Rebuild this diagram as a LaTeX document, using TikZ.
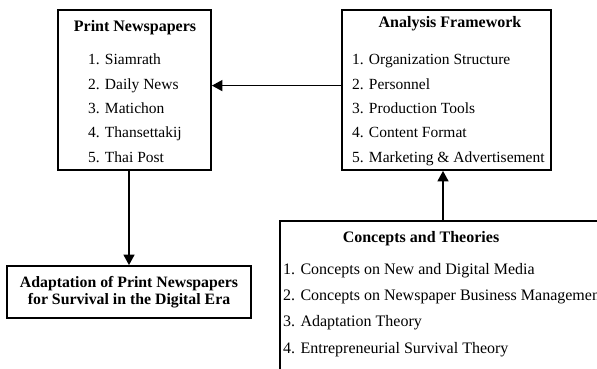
\documentclass[tikz,border=0pt]{standalone}
\usepackage{fontspec}
\setmainfont{Liberation Serif}
\usetikzlibrary{positioning, arrows.meta}

\begin{document}
\begin{tikzpicture}[
  x=1pt, y=-1pt,
  panel/.style={draw=black, line width=1.8pt, inner sep=0pt},
  head/.style={font=\fontsize{16}{17}\selectfont\bfseries, inner sep=0pt},
  entry/.style={font=\fontsize{15.5}{16.5}\selectfont, anchor=base west, inner sep=0pt},
  bigentry/.style={entry, font=\fontsize{16}{17}\selectfont},
  flow/.style={-{Triangle[length=10.5pt, width=11pt]}, line width=1.6pt}]

  \useasboundingbox (0,0) rectangle (597,369);
  \clip (0,0) rectangle (597,369);

  % --- the papers studied
  \node[panel, minimum width=153, minimum height=160] (pnbox) at (134.5, 90) {};
  \node[head, anchor=base] (pnhead) at (135, 31.5) {Print Newspapers};
  \foreach \t [count=\k] in {Siamrath, Daily News, Matichon, Thansettakij, Thai Post}
    \node[entry] (pn\k) at (88, {65+24.3*(\k-1)}) {\k. \t};

  % --- what is looked at in each paper
  \node[panel, minimum width=209, minimum height=160] (afbox) at (446.5, 90) {};
  \node[head, anchor=base] (afhead) at (450, 28) {Analysis Framework};
  \foreach \t [count=\k] in {Organization Structure, Personnel, Production Tools,
                             Content Format, Marketing \& Advertisement}
    \node[entry] (af\k) at (352, {65+24.3*(\k-1)}) {\k. \t};

  % --- the outcome
  \node[panel, minimum width=244, minimum height=52, align=center,
        font=\fontsize{15.8}{16.5}\selectfont\bfseries] (adbox) at (129, 292)
    {Adaptation of Print Newspapers\\for Survival in the Digital Era};

  % --- theory base, runs off the page at right and bottom
  \node[panel, minimum width=340, minimum height=170] (ctbox) at (450, 306) {};
  \node[head, anchor=base] (cthead) at (421, 242.5) {Concepts and Theories};
  \foreach \t [count=\k] in {Concepts on New and Digital Media,
                             Concepts on Newspaper Business Management,
                             Adaptation Theory, Entrepreneurial Survival Theory}
    \node[bigentry] (ct\k) at (283, {274+26.4*(\k-1)}) {\k. \t};

  \draw[flow] (afbox.west |- pn2) -- (pnbox.east |- pn2);
  \draw[flow] (pnbox.south -| adbox.north) -- (adbox.north);
  \draw[flow] (ctbox.north -| 443,0) -- (afbox.south -| 443,0);
\end{tikzpicture}
\end{document}
